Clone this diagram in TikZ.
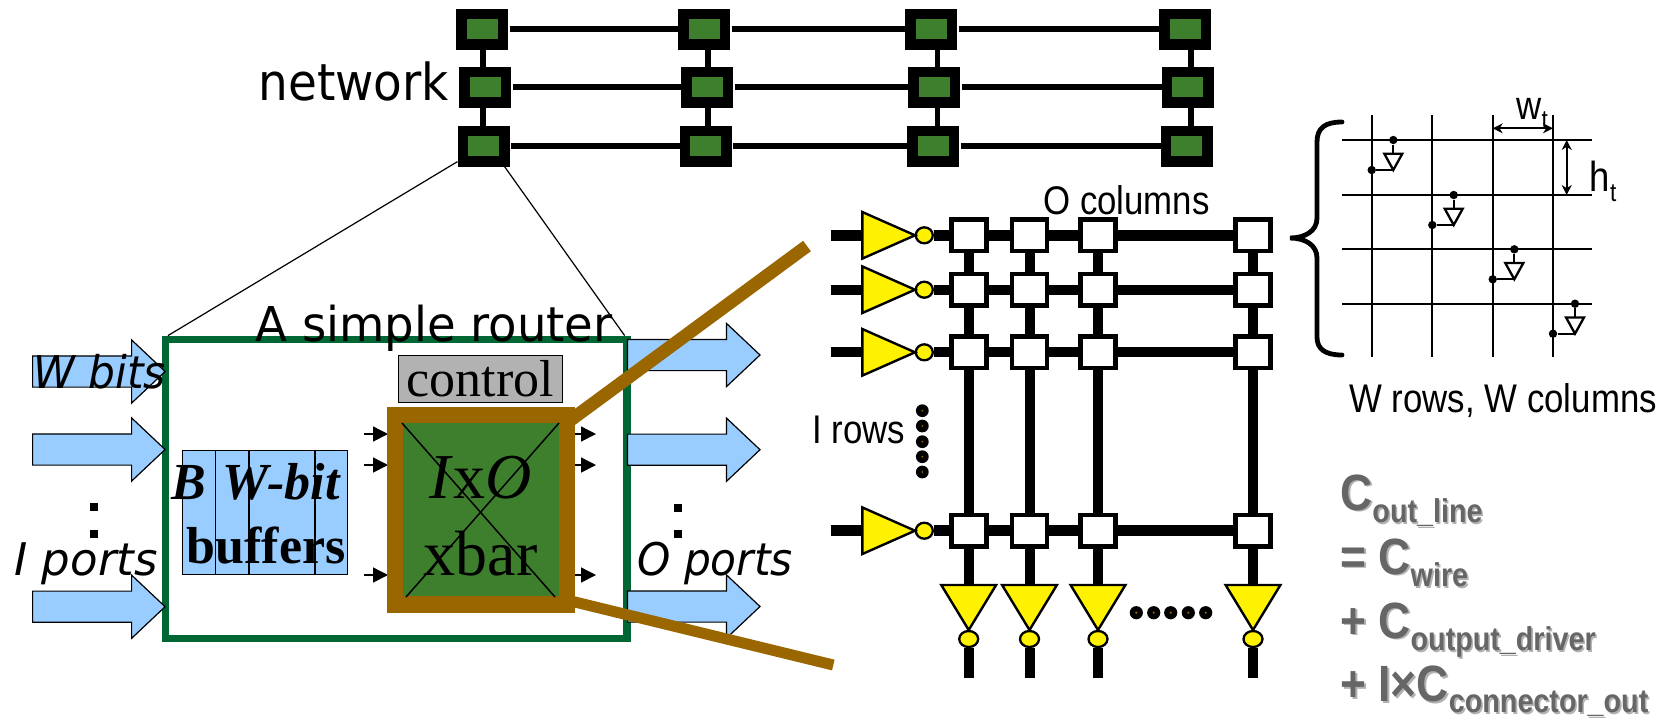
\documentclass[tikz,border=0pt]{standalone}
\usepackage{fontspec}
\usepackage{tikz}
\usetikzlibrary{arrows,arrows.meta,shapes.geometric}
\setmainfont{Liberation Serif}
\newfontfamily\verdfont[FakeStretch=.97]{DejaVu Sans}
\newfontfamily\netfont[FakeStretch=.92]{DejaVu Sans}
\newfontfamily\obliquefont{DejaVu Sans}
\newfontfamily\obliquetight[FakeStretch=.94]{DejaVu Sans}
\newfontfamily\narrowfont[FakeStretch=.87]{Liberation Sans}
\definecolor{netgreen}{HTML}{3E7F2E}
\definecolor{routergreen}{HTML}{006633}
\definecolor{zoombrown}{HTML}{996600}
\definecolor{portblue}{HTML}{99CCFF}
\definecolor{ctrlgrey}{HTML}{B2B2B2}
\definecolor{fgrey}{HTML}{666666}
\newcommand\shadowed[1]{\rlap{\kern.8pt\raisebox{-.8pt}{\color{ctrlgrey}#1}}#1}
\newcommand\capsub[3][6.3pt]{#2\raisebox{-#1}{\fontsize{16.5}{17}\selectfont #3}}
\begin{document}
\begin{tikzpicture}[x=.5pt,y=-.5pt,inner sep=0pt]
            \tikzstyle{netnode}=[draw=black,fill=netgreen,line width=5.25pt,minimum width=20.75pt,minimum height=15.25pt]
            \tikzstyle{netline}=[line width=3pt]
            \tikzstyle{portarrow}=[draw=black,fill=portblue,line width=.6pt,line join=miter]
            \tikzstyle{flow}=[line width=.75pt,-{Triangle[length=7.5pt,width=7.5pt]}]
            \tikzstyle{dim}=[line width=1.15pt,{Stealth[length=5pt,width=5pt]}-{Stealth[length=5pt,width=5pt]}]
            \tikzstyle{serifbig}=[anchor=base,font=\fontsize{32}{32}\selectfont]
            \tikzstyle{serifbold}=[anchor=base,font=\bfseries\fontsize{26}{26}\selectfont]
            \tikzstyle{portlabel}=[anchor=base west,font=\obliquefont\itshape\fontsize{22.5}{23}\selectfont]
            \tikzstyle{title}=[anchor=base west,font=\verdfont\fontsize{24}{24}\selectfont]
            \tikzstyle{dotsq}=[fill=black,minimum size=4pt]
            \tikzstyle{zoomline}=[draw=zoombrown,line width=5.5pt]
            \tikzstyle{switch}=[draw=black,fill=white,line width=2.35pt,minimum width=17.5pt,minimum height=15.65pt]
            \tikzstyle{wire}=[line width=5pt]
            \tikzstyle{inv}=[draw=black,fill=yellow,line width=1.2pt]
            \tikzstyle{bubble}=[ellipse,draw=black,fill=yellow,line width=1.15pt,minimum width=8.5pt,minimum height=8pt]
            \tikzstyle{blob}=[circle,fill=black,minimum size=6.6pt]
            \tikzstyle{note}=[anchor=base west,font=\narrowfont\fontsize{20}{20}\selectfont]
            \tikzstyle{gridline}=[line width=1.15pt]
            \tikzstyle{junct}=[circle,fill=black,minimum size=4.2pt]
            \tikzstyle{formula}=[anchor=base west,text=fgrey,font=\narrowfont\bfseries\fontsize{25.5}{26}\selectfont]
            \tikzset{port/.pic={\draw[portarrow] (0,-15.6) -- (99,-15.6) -- (99,-31.6) -- (132.5,0) -- (99,31.6) -- (99,15.6) -- (0,15.6) -- cycle;}}
            \useasboundingbox (0,0) rectangle (1665,720);

            \foreach \nx/\ny/\nn in {482/29/11,704/29/12,931.3/29/13,1185.3/29/14,485/87/21,707/87/22,934/87/23,1187.7/87/24,483.5/146/31,705.5/146/32,933/146/33,1186.7/146/34}
                \node[netnode] (n\nn) at (\nx,\ny) {};
            \foreach \r in {1,2,3}
                \foreach \a/\b in {1/2,2/3,3/4}
                    \draw[netline,shorten <=.75pt] (n\r\a) -- (n\r\b);
            \foreach \c/\vx in {1/482.7,2/707.7,3/937.5,4/1190.7} {
                \coordinate (v\c) at (\vx,0);
                \draw[netline,line width=2.85pt] (v\c |- n1\c.south) -- (v\c |- n2\c.north);
                \draw[netline,line width=2.85pt] (v\c |- n2\c.south) -- (v\c |- n3\c.north);
            }
            \node[title,font=\netfont\fontsize{25.5}{26}\selectfont] (network) at (258,100) {network};

            \node[draw=routergreen,fill=white,line width=3.6pt,minimum width=230.75pt,minimum height=149.5pt] (router) at (396.3,488.7) {};
            \draw[line width=.6pt] (n31) -- ([xshift=3pt]router.north west);
            \draw[line width=.6pt] ([xshift=-2.5pt]n31.south east) -- ([xshift=-3pt]router.north east);

            \foreach \py in {371.5,449.5,606.7}
                \pic at (32.6,\py) {port};
            \foreach \py in {355,449.7,606.5}
                \pic at (627.5,\py) {port};

            \node[draw=black,fill=portblue,line width=.75pt,minimum width=82.5pt,minimum height=62pt] (buf) at (264.8,512.6) {};
            \foreach \bx in {215.5,249,315}
                \draw[line width=.75pt] (\bx,450) -- (\bx,575.3);
            \node[serifbold] (bufa) at (256,499) {\textit{B\hspace{2pt} W-bit}};
            \node[serifbold] (bufb) at (266,563) {buffers};

            \node[draw=black,fill=ctrlgrey,line width=.75pt,minimum width=82pt,minimum height=23.5pt,font=\fontsize{26}{26}\selectfont] (control) at (480.5,378.9) {control};

            \foreach \fy/\k in {434/1,465/2,575/3} {
                \coordinate (li\k) at (364,\fy);
                \coordinate (lt\k) at (388,\fy);
                \coordinate (ri\k) at (575,\fy);
                \coordinate (rt\k) at (596,\fy);
                \draw[flow] (li\k) -- (lt\k);
                \draw[flow] (ri\k) -- (rt\k);
            }
            \node[draw=zoombrown,fill=netgreen,line width=8.25pt,minimum width=86.15pt,minimum height=94.6pt] (xbar) at (481,509.8) {};
            \coordinate (xa) at (402,423);
            \coordinate (xb) at (555,597);
            \coordinate (xc) at (559,423);
            \coordinate (xd) at (406,597);
            \draw[line width=.75pt] (xa) -- (xb);
            \draw[line width=.75pt] (xc) -- (xd);
            \node[serifbig] (xbara) at (480.6,498) {\textit{I}x\textit{O}};
            \node[serifbig] (xbarb) at (480.6,575) {xbar};

            \foreach \dx/\dy/\k in {90/503/1,90/530/2,674/504/3,674/530/4}
                \node[dotsq,anchor=north west] (sq\k) at (\dx,\dy) {};
            \node[portlabel,font=\obliquetight\itshape\fontsize{22.5}{23}\selectfont] (wbits) at (33,388) {W bits};
            \node[portlabel] (iports) at (14,575) {I ports};
            \node[portlabel,font=\obliquetight\itshape\fontsize{22.5}{23}\selectfont] (oports) at (637,575) {O ports};
            \node[title] (rtitle) at (255,341.7) {A simple router};

            \coordinate (zu) at (807,246);
            \coordinate (zd) at (833.3,665);
            \draw[zoomline,line width=6.5pt] ([xshift=-3pt,yshift=-7pt]xbar.north east) -- (zu);
            \draw[zoomline] ([xshift=-3pt,yshift=6pt]xbar.south east) -- (zd);

            \foreach \ry/\r in {235.3/1,289.7/2,352.3/3,530.7/4}
                \foreach \cx/\c in {968.7/1,1029.5/2,1098/3,1253/4}
                    \node[switch] (sw\r\c) at (\cx,\ry) {};
            \foreach \ry/\r/\w in {235.3/1/5.6,289.7/2/5,352.3/3/5,530.7/4/5.5} {
                \coordinate (in\r) at (830.7,\ry);
                \coordinate (tl\r) at (864,\ry);
                \node[bubble] (ib\r) at (924.3,\ry) {};
                \draw[line width=\w pt] (in\r) -- (tl\r);
                \draw[inv] (862.3,\ry-23.3) -- (915,\ry) -- (862.3,\ry+23.3) -- cycle;
                \draw[line width=\w pt] (ib\r) -- (sw\r1);
                \foreach \a/\b in {1/2,2/3,3/4}
                    \draw[line width=\w pt] (sw\r\a) -- (sw\r\b);
            }
            \foreach \cx/\c in {968.7/1,1029.5/2,1098/3,1253/4} {
                \coordinate (tt\c) at (\cx,586);
                \coordinate (out\c) at (\cx,678);
                \node[bubble,minimum width=9.5pt] (ob\c) at (\cx,639) {};
                \foreach \a/\b in {1/2,2/3,3/4}
                    \draw[wire] (sw\a\c) -- (sw\b\c);
                \draw[wire] (sw4\c) -- (tt\c);
                \draw[wire] (ob\c) -- (out\c);
                \draw[inv] (\cx-27.4,585) -- (\cx+27.4,585) -- (\cx,630) -- cycle;
            }
            \foreach \bx/\k in {1136.3/1,1153.7/2,1170.7/3,1188.3/4,1205.7/5} {
                \node[blob] (hd\k) at (\bx,612.7) {};
                \fill[zoombrown] (hd\k) circle (.6pt);
            }
            \foreach \by/\k in {410.7/1,426/2,441.7/3,456.7/4,472/5} {
                \node[blob,minimum size=6.4pt] (vd\k) at (922.3,\by) {};
                \fill[zoombrown] (vd\k) circle (.5pt);
            }
            \node[note] (ocols) at (1043,214.3) {O columns};
            \node[note] (irows) at (812,443.3) {I rows};

            \draw[line width=2.4pt,line cap=round] (1342,122) .. controls (1325,122) and (1317,128) .. (1317,142) -- (1317,218) .. controls (1317,231) and (1305,238) .. (1290,238) .. controls (1305,238) and (1317,245) .. (1317,258) -- (1317,337) .. controls (1317,349) and (1325,355) .. (1342,355);

            \foreach \gy/\k in {140/1,195/2,249.3/3,303.7/4} {
                \coordinate (ga\k) at (1342,\gy);
                \coordinate (gb\k) at (1592.3,\gy);
                \draw[gridline] (ga\k) -- (gb\k);
            }
            \foreach \gx/\k in {1371.7/1,1432.3/2,1492.7/3,1553/4} {
                \coordinate (gc\k) at (\gx,115);
                \coordinate (gd\k) at (\gx,356.7);
                \draw[gridline] (gc\k) -- (gd\k);
            }
            \foreach \k/\cx/\dx/\ry in {1/1371.7/1393.3/140,2/1432.3/1453.7/195,3/1492.7/1514.3/249.3,4/1553/1575/303.7} {
                \node[junct] (dt\k) at (\dx,\ry) {};
                \node[junct] (dc\k) at (\cx,\ry+30) {};
                \coordinate (tp\k) at (\dx,\ry+13.7);
                \coordinate (tb\k) at (\dx,\ry+30);
                \draw[gridline] (dt\k) -- (tp\k);
                \draw[gridline] (dc\k) -- (tb\k);
                \draw[gridline,fill=white] (\dx-9,\ry+13.7) -- (\dx+9,\ry+13.7) -- (\dx,\ry+30) -- cycle;
            }
            \coordinate (wa) at (1492.7,128.3);
            \coordinate (wb) at (1553,128.3);
            \coordinate (ha) at (1566.7,140);
            \coordinate (hb) at (1566.7,195);
            \draw[dim] (wa) -- (wb);
            \draw[dim] (ha) -- (hb);
            \node[note] (wt) at (1516,119) {w\raisebox{-4.5pt}{\fontsize{13}{13}\selectfont t}};
            \node[note,font=\narrowfont\fontsize{21}{21}\selectfont] (ht) at (1589.5,191.7) {h\raisebox{-5pt}{\fontsize{13}{13}\selectfont t}};
            \node[note] (wrows) at (1349,412.7) {W rows, W columns};

            \node[formula] (f1) at (1340,510) {\shadowed{\capsub{C}{out\_line}}};
            \node[formula] (f2) at (1340,574) {\shadowed{\capsub{= C}{wire}}};
            \node[formula] (f3) at (1340,638) {\shadowed{\capsub{+ C}{output\_driver}}};
            \node[formula] (f4) at (1340,701.5) {\shadowed{\capsub[5.5pt]{+ I×C}{connector\_out}}};
        \end{tikzpicture}
\end{document}
